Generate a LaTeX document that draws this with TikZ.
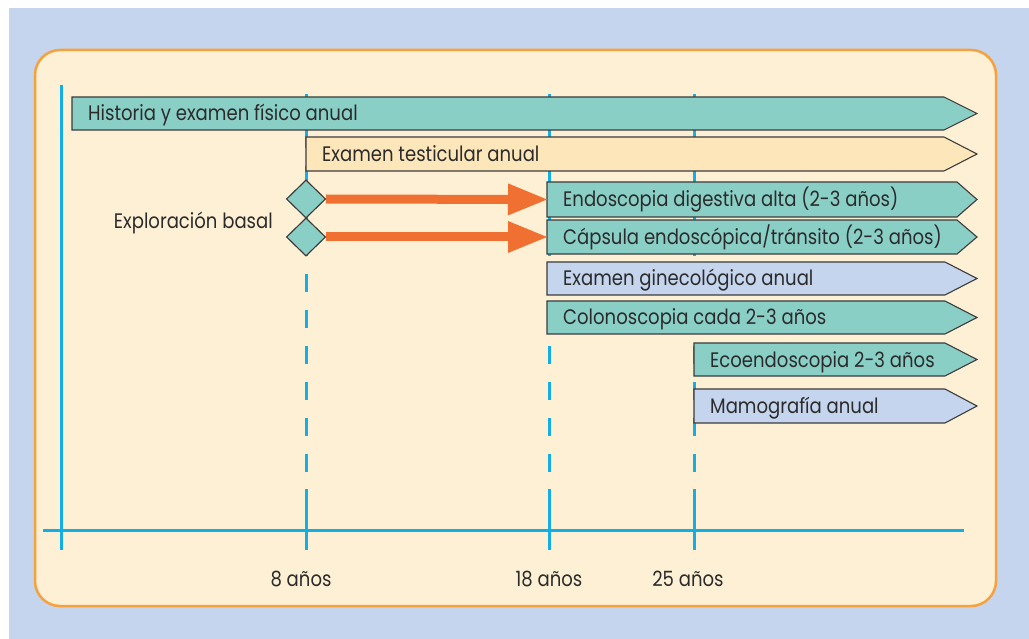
\documentclass[tikz,border=0pt]{standalone}
\usepackage{fontspec}
\setmainfont{Poppins}[FakeStretch=0.86]
\usetikzlibrary{arrows.meta,shapes.geometric}
\definecolor{bgblue}{HTML}{C5D5EE}
\definecolor{panelfill}{HTML}{FEF0D4}
\definecolor{paneledge}{HTML}{F6A13E}
\definecolor{barteal}{HTML}{8ACFC6}
\definecolor{barorange}{HTML}{FDE6BA}
\definecolor{barblue}{HTML}{C5D5EE}
\definecolor{axisblue}{HTML}{12AEE6}
\definecolor{arroworange}{HTML}{F07032}
\definecolor{ink}{HTML}{2B2B2B}
\definecolor{edgegray}{HTML}{3C3C3C}
\tikzset{
  barline/.style={draw=edgegray, line width=1.1pt},
  bartext/.style={font=\fontsize{21}{23}\selectfont, text=ink, inner sep=0pt},
  axisline/.style={draw=axisblue, line width=3pt},
  dashline/.style={axisline, dash pattern=on 18pt off 18pt},
  bigarrow/.style={draw=arroworange, line width=9pt, -{Triangle[length=39pt,width=32pt,line width=0pt]}},
  basediamond/.style={diamond, draw=edgegray, fill=barteal, line width=1pt, aspect=1, minimum width=39pt, minimum height=38pt, inner sep=0pt}
}
\newcommand{\tlbar}[7]{%
  \draw[barline, fill=#6] (#2,#3) -- (#5,#3) -- (977,{(#3+#4)/2}) -- (#5,#4) -- (#2,#4) -- cycle;
  \coordinate (#1w) at (#2,{(#3+#4)/2});
  \node[bartext, anchor=base west] (#1) at (#2+16,{(#3+#4)/2+7.5}) {#7};}
\begin{document}
\begin{tikzpicture}[x=1pt,y=-1pt]
\useasboundingbox (0,0) rectangle (1029,639);
\fill[white] (0,0) rectangle (1029,639);
\fill[bgblue] (9,8) rectangle (1029,639);
\draw[draw=paneledge, fill=panelfill, line width=2.5pt, rounded corners=25pt] (35,50) rectangle (996,606);
% axes
\coordinate (ytop) at (61,85);
\coordinate (ybot) at (61,550);
\coordinate (xl) at (43,530);
\coordinate (xr) at (964,530);
\draw[axisline] (ytop) -- (ybot);
\draw[axisline] (xl) -- (xr);
\foreach \x/\n in {306/a,549/b,694/c}{
  \coordinate (t\n top) at (\x,94);
  \coordinate (t\n mid) at (\x,489);
  \coordinate (t\n bot) at (\x,550);
  \draw[dashline] (t\n top) -- (t\n mid);
  \draw[axisline] (t\n mid) -- (t\n bot);
}
% bars
\tlbar{hist}{72}{97}{130}{944}{barteal}{Historia y examen físico anual}
\tlbar{test}{306}{137}{171}{944}{barorange}{Examen testicular anual}
\tlbar{endo}{547}{182}{217}{957}{barteal}{Endoscopia digestiva alta (2-3 años)}
\tlbar{caps}{547}{220}{254}{957}{barteal}{Cápsula endoscópica/tránsito (2-3 años)}
\tlbar{gine}{547}{262}{295}{945}{barblue}{Examen ginecológico anual}
\tlbar{colo}{547}{301}{334}{945}{barteal}{Colonoscopia cada 2-3 años}
\tlbar{eco}{694}{343}{376}{945}{barteal}{Ecoendoscopia 2-3 años}
\tlbar{mamo}{694}{389}{423}{945}{barblue}{Mamografía anual}
% diamonds and arrows
\node[basediamond] (d1) at (306,199) {};
\node[basediamond] (d2) at (306,237) {};
\draw[bigarrow] (d1.east) -- (endow);
\draw[bigarrow] (d2.east) -- (capsw);
\node[basediamond] at (d1) {};
\node[basediamond] at (d2) {};
\node[bartext, anchor=base east] (expl) at (273,229) {Exploración basal};
% labels
\node[bartext, anchor=base] (l8) at (301,586) {8 años};
\node[bartext, anchor=base] (l18) at (549,586) {18 años};
\node[bartext, anchor=base] (l25) at (688,586) {25 años};
\end{tikzpicture}
\end{document}
